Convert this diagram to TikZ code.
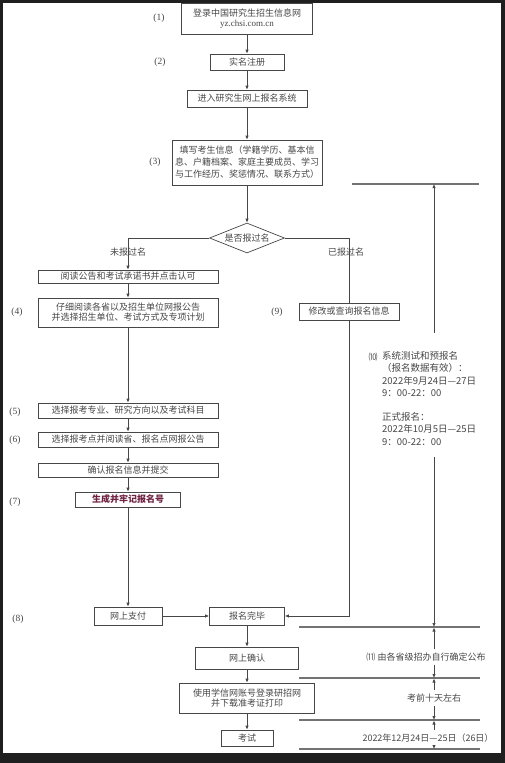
\documentclass[tikz,border=0pt]{standalone}
\usepackage{fontspec}
\setmainfont{Liberation Serif}
\newfontfamily\cjk{Noto Sans CJK SC}
\usetikzlibrary{shapes.geometric,arrows.meta,positioning}
\colorlet{frame}{black!88}
\colorlet{ink}{black!72}
\colorlet{rulecol}{black!55}
\definecolor{mark}{HTML}{6E2140}

\begin{document}
\begin{tikzpicture}[x=1pt,y=-1pt, font=\cjk\fontsize{9}{11}\selectfont, text=ink,
    box/.style={draw=ink, line width=0.7pt, inner sep=1pt, align=center},
    flow/.style={draw=ink, line width=0.7pt, -{Latex[length=4pt,width=3.4pt]}},
    link/.style={draw=ink, line width=0.7pt},
    stage/.style={font=\rmfamily\fontsize{9.5}{11}\selectfont},
    rule/.style={draw=rulecol, line width=1.3pt}]

    % frame of the screenshot
    \useasboundingbox (0,0) rectangle (505,763);
    \fill[frame] (0,0) rectangle (505,763);
    \fill[white] (3,3) rectangle (501,753);

    % main column
    \node[box, minimum width=131pt, minimum height=31pt] (login) at (247,18.5) {登录中国研究生招生信息网\\[-1pt]{\rmfamily yz.chsi.com.cn}};
    \node[box, minimum width=74pt, minimum height=16pt] (real) at (247,62) {实名注册};
    \node[box, minimum width=120pt, minimum height=17pt] (enter) at (247,98.5) {进入研究生网上报名系统};
    \node[box, minimum width=150pt, minimum height=45pt, font=\cjk\fontsize{9}{12}\selectfont] (fill) at (247,162.5) {填写考生信息（学籍学历、基本信\\息、户籍档案、家庭主要成员、学习\\与工作经历、奖惩情况、联系方式）};
    \node[diamond, draw=ink, line width=0.7pt, aspect=2.5, inner sep=0pt, minimum width=75pt, minimum height=30pt] (ask) at (247,238) {是否报过名};

    % left branch
    \node[box, minimum width=180pt, minimum height=13pt] (read) at (128,276.5) {阅读公告和考试承诺书并点击认可};
    \node[box, minimum width=180pt, minimum height=29pt] (unit) at (128,312.5) {仔细阅读各省以及招生单位网报公告\\[-1pt]并选择招生单位、考试方式及专项计划};
    \node[box, minimum width=180pt, minimum height=15pt] (major) at (128,410.5) {选择报考专业、研究方向以及考试科目};
    \node[box, minimum width=180pt, minimum height=15pt] (site) at (128,439.5) {选择报考点并阅读省、报名点网报公告};
    \node[box, minimum width=180pt, minimum height=14pt] (submit) at (128,470) {确认报名信息并提交};
    \node[box, minimum width=105pt, minimum height=15pt, text=mark, font=\cjk\bfseries\fontsize{9}{11}\selectfont] (number) at (128,499.5) {生成并牢记报名号};
    \node[box, minimum width=68pt, minimum height=18pt] (pay) at (128,616) {网上支付};

    % right branch
    \node[box, minimum width=100pt, minimum height=17pt] (edit) at (349,311.5) {修改或查询报名信息};

    % bottom column
    \node[box, minimum width=75pt, minimum height=18pt] (done) at (247,616) {报名完毕};
    \node[box, minimum width=103pt, minimum height=22pt] (confirm) at (247,658) {网上确认};
    \node[box, minimum width=135pt, minimum height=30pt] (ticket) at (247,698) {使用学信网账号登录研招网\\[-1pt]并下载准考证打印};
    \node[box, minimum width=52pt, minimum height=16pt] (exam) at (247,738) {考试};

    % step numbers
    \node[stage] (s1) at (159,18) {(1)};
    \node[stage] (s2) at (160,62) {(2)};
    \node[stage] (s3) at (155,162) {(3)};
    \node[stage] (s4) at (17,312) {(4)};
    \node[stage] (s9) at (277,312) {(9)};
    \node[stage] (s5) at (15,412) {(5)};
    \node[stage] (s6) at (15,440) {(6)};
    \node[stage] (s7) at (15,502) {(7)};
    \node[stage] (s8) at (18,619) {(8)};

    \draw[flow] (login) -- (real);
    \draw[flow] (real) -- (enter);
    \draw[flow] (enter) -- (fill);
    \draw[flow] (fill) -- (ask);
    \draw[flow] (ask.west) -| (read.north);
    \draw[link] (ask.east) -| (edit.north);
    \node (notyet) at (128,252) {未报过名};
    \node (already) at (346,252) {已报过名};
    \draw[flow] (read) -- (unit);
    \draw[flow] (unit) -- (major);
    \draw[flow] (major) -- (site);
    \draw[flow] (site) -- (submit);
    \draw[flow] (submit) -- (number);
    \draw[flow] (number) -- (pay);
    \draw[flow] (pay) -- (done);
    \draw[flow] (edit.south) |- (done.east);
    \draw[flow] (done) -- (confirm);
    \draw[flow] (confirm) -- (ticket);
    \draw[flow] (ticket) -- (exam);

    % time line on the right
    \coordinate (a1) at (352,184);  \coordinate (a2) at (479,184);
    \coordinate (b1) at (299,627);  \coordinate (b2) at (480,627);
    \coordinate (c1) at (299,678);  \coordinate (c2) at (480,678);
    \coordinate (d1) at (299,720);  \coordinate (d2) at (480,720);
    \coordinate (e1) at (299,749);  \coordinate (e2) at (480,749);
    \foreach \p in {a,b,c,d,e} \draw[rule] (\p1) -- (\p2);

    \node[font=\cjk\fontsize{9}{11}\selectfont] (s10) at (373,357) {⑽};
    \node[anchor=north west, align=left, inner sep=0pt, font=\cjk\fontsize{9.5}{12.5}\selectfont] (period) at (382,351)
      {系统测试和预报名\\（报名数据有效）：\\2022年9月24日—27日\\9：00-22：00\\[11pt]正式报名：\\2022年10月5日—25日\\9：00-22：00};
    \node (local) at (426,657) {⑾ 由各省级招办自行确定公布};
    \node (tendays) at (434,698) {考前十天左右};
    \node (dates) at (428,738) {2022年12月24日—25日（26日）};

    \draw[flow] (434,333) -- (434,184);
    \draw[flow] (434,457) -- (434,627);
    \draw[flow] (local.north -| 434,0) -- (434,627.5);
    \draw[flow] (local.south -| 434,0) -- (434,678);
    \draw[flow] (tendays.north -| 434,0) -- (434,678.5);
    \draw[flow] (tendays.south -| 434,0) -- (434,720);
    \draw[flow] (dates.north -| 434,0) -- (434,720.5);
    \draw[flow] (dates.south -| 434,0) -- (434,749);
\end{tikzpicture}
\end{document}
